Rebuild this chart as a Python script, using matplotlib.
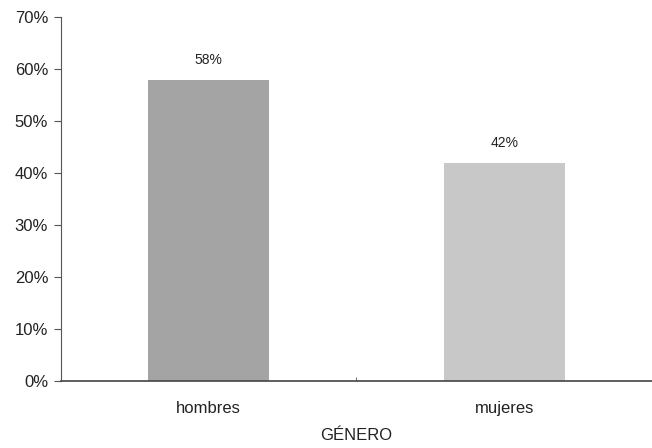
import numpy as np
import matplotlib.pyplot as plt

# datos del grafico
categorias = ['hombres', 'mujeres']
porcentajes = [58, 42]
etiquetas = ['58%', '42%']
colores = ['#a4a4a4', '#c8c8c8']
yticks = [0, 10, 20, 30, 40, 50, 60, 70]

plt.rcParams['font.family'] = ['Liberation Sans', 'DejaVu Sans']

fig = plt.figure(figsize=(6.52, 4.48), dpi=100)
ax = fig.add_axes([0.093, 0.149, 0.907, 0.812])

x = np.arange(len(categorias))
ax.bar(x, porcentajes, width=0.41, color=colores, edgecolor='none', zorder=2)

for xi, v, t in zip(x, porcentajes, etiquetas):
    ax.annotate(t, (xi, v), xytext=(0, 9), textcoords='offset points',
                ha='center', va='bottom', fontsize=10, color='#222222')

ax.set_xlim(-0.5, 1.5)
ax.set_ylim(0, 70)
ax.set_yticks(yticks)
ax.set_yticklabels(['%d%%' % t for t in yticks], fontsize=12, color='#222222')
ax.set_xticks(x)
ax.set_xticklabels(categorias, fontsize=12, color='#222222')
# marca entre categorias
ax.set_xticks([0.5], minor=True)
ax.tick_params(axis='x', which='major', length=0, pad=14)
ax.tick_params(axis='x', which='minor', length=3, direction='in', color='#555555')
ax.tick_params(axis='y', length=5, color='#555555', pad=4)
ax.set_xlabel('GÉNERO', fontsize=12, color='#222222', labelpad=9)

for s in ['top', 'right']:
    ax.spines[s].set_visible(False)
ax.spines['left'].set_color('#555555')
ax.spines['bottom'].set_color('#444444')
ax.spines['bottom'].set_linewidth(1.2)

fig.savefig('out.png', dpi=100)
